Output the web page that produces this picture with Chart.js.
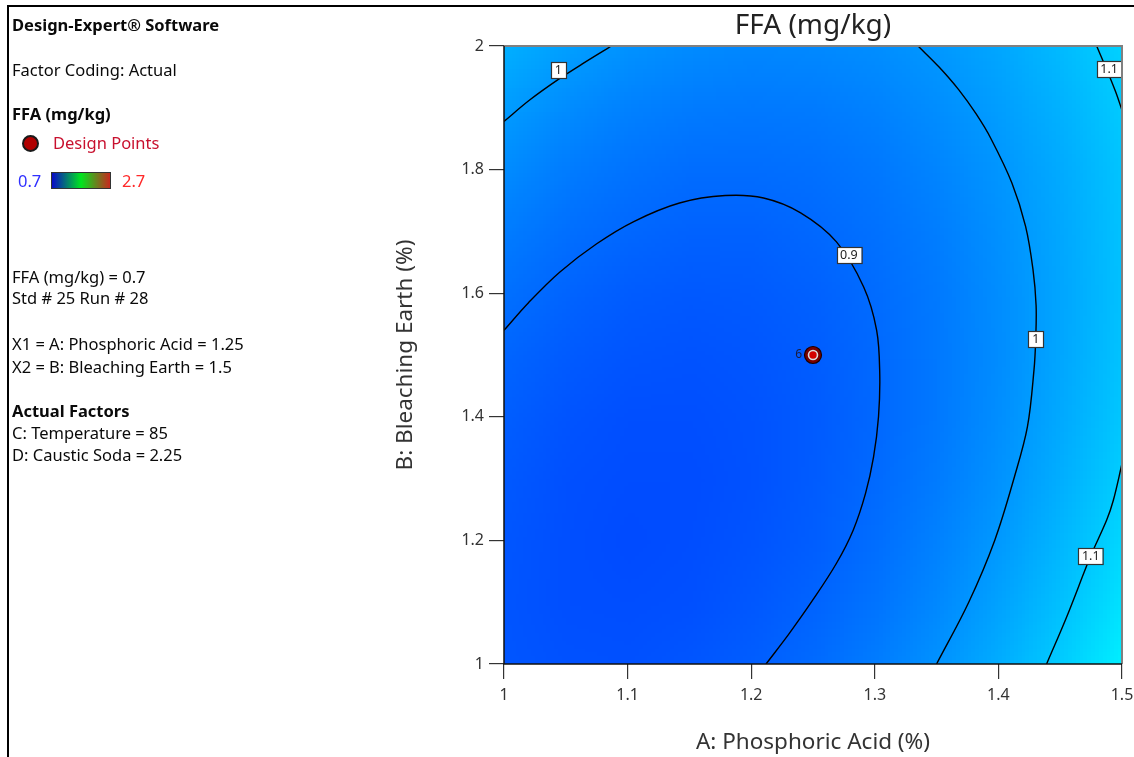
<!DOCTYPE html>
<html>
<head>
<meta charset="utf-8">
<title>FFA (mg/kg) contour</title>
<script src="https://cdn.jsdelivr.net/npm/chart.js@4.4.1/dist/chart.umd.min.js"></script>
<style>
	html, body { margin: 0; padding: 0; background: #fff; }
	body { width: 1134px; height: 757px; position: relative; overflow: hidden; font-family: "Noto Sans", sans-serif; }
	#frame { position: absolute; left: 7px; top: 5px; width: 1140px; height: 760px; border-left: 2px solid #000; border-top: 2px solid #000; }
	#chart { position: absolute; left: 0; top: 0; }
	.t { position: absolute; left: 12px; font-size: 16.5px; line-height: 20px; color: #0a0a0a; white-space: nowrap; }
	.b { font-weight: bold; }
	#dp-dot { position: absolute; left: 22px; top: 135px; width: 17px; height: 17px; box-sizing: border-box; border-radius: 50%; background: #b00000; border: 2px solid #1a1a1a; }
	#bar { position: absolute; left: 51px; top: 172px; width: 60px; height: 17px; box-sizing: border-box; border: 1px solid #333; background: linear-gradient(to right, #0a0ac8, #00e61e, #c8281e); }
</style>
</head>
<body>
<div id="frame"></div>
<canvas id="chart" width="1134" height="757"></canvas>

<div class="t b" style="top:15px">Design-Expert® Software</div>
<div class="t" style="top:60px">Factor Coding: Actual</div>
<div class="t b" style="top:104px">FFA (mg/kg)</div>
<div id="dp-dot"></div>
<div class="t" style="top:133px; left:53px; color:#c8102e">Design Points</div>
<div class="t" style="top:171px; left:18px; color:#3030ff">0.7</div>
<div id="bar"></div>
<div class="t" style="top:171px; left:122px; color:#ff2a2a">2.7</div>
<div class="t" style="top:267px">FFA (mg/kg) = 0.7</div>
<div class="t" style="top:288px">Std # 25 Run # 28</div>
<div class="t" style="top:334px">X1 = A: Phosphoric Acid = 1.25</div>
<div class="t" style="top:357px">X2 = B: Bleaching Earth = 1.5</div>
<div class="t b" style="top:401px">Actual Factors</div>
<div class="t" style="top:423px">C: Temperature = 85</div>
<div class="t" style="top:445px">D: Caustic Soda = 2.25</div>

<script>
const FONT = '"Noto Sans", sans-serif';

// response surface (rows = bleaching earth, cols = phosphoric acid)
const phosphoricLevels = [1.00, 1.05, 1.10, 1.15, 1.20, 1.25, 1.30, 1.35, 1.40, 1.45, 1.50];
const bleachingLevels = [1.0, 1.1, 1.2, 1.3, 1.4, 1.5, 1.6, 1.7, 1.8, 1.9, 2.0];
const ffaGrid = [
	[0.869, 0.860, 0.859, 0.868, 0.885, 0.910, 0.945, 0.988, 1.041, 1.102, 1.172],
	[0.866, 0.854, 0.852, 0.857, 0.872, 0.896, 0.928, 0.969, 1.019, 1.078, 1.145],
	[0.868, 0.854, 0.848, 0.852, 0.864, 0.885, 0.915, 0.954, 1.002, 1.058, 1.123],
	[0.874, 0.857, 0.850, 0.851, 0.861, 0.880, 0.907, 0.944, 0.989, 1.043, 1.106],
	[0.884, 0.865, 0.855, 0.854, 0.862, 0.879, 0.904, 0.938, 0.981, 1.033, 1.093],
	[0.899, 0.878, 0.866, 0.862, 0.868, 0.882, 0.905, 0.937, 0.977, 1.027, 1.085],
	[0.919, 0.896, 0.881, 0.875, 0.878, 0.890, 0.911, 0.940, 0.978, 1.025, 1.081],
	[0.943, 0.917, 0.901, 0.892, 0.893, 0.903, 0.921, 0.948, 0.984, 1.029, 1.082],
	[0.972, 0.944, 0.925, 0.914, 0.913, 0.920, 0.936, 0.960, 0.994, 1.036, 1.087],
	[1.005, 0.975, 0.953, 0.941, 0.937, 0.941, 0.955, 0.978, 1.009, 1.049, 1.098],
	[1.043, 1.011, 0.987, 0.972, 0.965, 0.968, 0.979, 0.999, 1.028, 1.066, 1.112],
];
const colourMin = 0.7;
const colourMax = 2.7;

const xTickValues = [1, 1.1, 1.2, 1.3, 1.4, 1.5];
const xTickLabels = ["1", "1.1", "1.2", "1.3", "1.4", "1.5"];
const yTickValues = [1, 1.2, 1.4, 1.6, 1.8, 2];
const yTickLabels = ["1", "1.2", "1.4", "1.6", "1.8", "2"];

// contour lines, [A, B] pairs
const contour0_9 = [
	[1.0, 1.540], [1.02, 1.585], [1.045, 1.634], [1.075, 1.680], [1.105, 1.716],
	[1.142, 1.746], [1.179, 1.758], [1.21, 1.754], [1.24, 1.730], [1.269, 1.683],
	[1.291, 1.610], [1.3015, 1.540], [1.304, 1.470], [1.3030, 1.400], [1.299, 1.335],
	[1.2925, 1.276], [1.2826, 1.217], [1.269, 1.163], [1.250, 1.104], [1.231, 1.050],
	[1.212, 1.0],
];
const contour1_left = [[1.0, 1.878], [1.021, 1.913], [1.044, 1.946], [1.065, 1.973], [1.087, 2.0]];
const contour1_right = [
	[1.335, 2.0], [1.352, 1.966], [1.368, 1.929], [1.382, 1.890], [1.394, 1.850],
	[1.411, 1.778], [1.422, 1.708], [1.428, 1.638], [1.4305, 1.58], [1.4302, 1.526],
	[1.4288, 1.476], [1.4235, 1.384], [1.413, 1.303], [1.397, 1.2], [1.376, 1.1], [1.350, 1.0],
];
const contour1_1_top = [[1.4795, 2.0], [1.488, 1.96], [1.495, 1.925], [1.5, 1.896]];
const contour1_1_bottom = [
	[1.5, 1.324], [1.493, 1.265], [1.4876, 1.233], [1.4747, 1.175], [1.4553, 1.0765], [1.439, 1.0],
];
const contourLines = [contour0_9, contour1_left, contour1_right, contour1_1_top, contour1_1_bottom];

const contourLabelText = ["1", "0.9", "1", "1.1", "1.1"];
const contourLabelA = [1.044, 1.279, 1.4303, 1.4896, 1.4747];
const contourLabelB = [1.961, 1.662, 1.526, 1.963, 1.175];

const designA = [1.25];
const designB = [1.5];
const designReps = ["6"];

const colourStops = [[0, 0, 255], [0, 255, 255], [0, 255, 0], [255, 255, 0], [255, 0, 0]];

function ffaColour(v) {
	let t = (v - colourMin) / (colourMax - colourMin);
	t = Math.max(0, Math.min(1, t));
	const s = t * (colourStops.length - 1);
	const i = Math.min(colourStops.length - 2, Math.floor(s));
	const f = s - i;
	return colourStops[i].map((c, k) => Math.round(c + (colourStops[i + 1][k] - c) * f));
}

// surface colour, painted under the datasets
const fieldPlugin = {
	id: "field",
	beforeDatasetsDraw(chart) {
		const { ctx, chartArea, scales } = chart;
		const nx = phosphoricLevels.length;
		const ny = bleachingLevels.length;
		const off = document.createElement("canvas");
		off.width = nx;
		off.height = ny;
		const octx = off.getContext("2d");
		const img = octx.createImageData(nx, ny);
		for (let j = 0; j < ny; j++) {
			for (let i = 0; i < nx; i++) {
				const row = ny - 1 - j;
				const rgb = ffaColour(ffaGrid[j][i]);
				const k = (row * nx + i) * 4;
				img.data[k] = rgb[0];
				img.data[k + 1] = rgb[1];
				img.data[k + 2] = rgb[2];
				img.data[k + 3] = 255;
			}
		}
		octx.putImageData(img, 0, 0);
		const x0 = scales.x.getPixelForValue(phosphoricLevels[0]);
		const cw = scales.x.getPixelForValue(phosphoricLevels[1]) - x0;
		const yTop = scales.y.getPixelForValue(bleachingLevels[ny - 1]);
		const ch = scales.y.getPixelForValue(bleachingLevels[ny - 2]) - yTop;
		ctx.save();
		ctx.beginPath();
		ctx.rect(chartArea.left, chartArea.top, chartArea.width, chartArea.height);
		ctx.clip();
		ctx.imageSmoothingEnabled = true;
		ctx.drawImage(off, x0 - cw / 2, yTop - ch / 2, cw * nx, ch * ny);
		ctx.restore();
	},
};

// contour labels, replicate count and plot frame
const overlayPlugin = {
	id: "overlay",
	afterDatasetsDraw(chart) {
		const { ctx, chartArea, scales } = chart;
		ctx.save();
		ctx.font = "12.5px " + FONT;
		ctx.textAlign = "center";
		ctx.textBaseline = "middle";
		contourLabelText.forEach((txt, i) => {
			const px = scales.x.getPixelForValue(contourLabelA[i]);
			const py = scales.y.getPixelForValue(contourLabelB[i]);
			const w = Math.max(ctx.measureText(txt).width + 7, 15);
			const h = 16;
			ctx.fillStyle = "#fff";
			ctx.fillRect(Math.round(px - w / 2), Math.round(py - h / 2), w, h);
			ctx.strokeStyle = "#333";
			ctx.lineWidth = 1.2;
			ctx.strokeRect(Math.round(px - w / 2) + 0.5, Math.round(py - h / 2) + 0.5, w, h);
			ctx.fillStyle = "#222";
			ctx.fillText(txt, px, py + 0.5);
		});

		ctx.font = "12px " + FONT;
		ctx.textAlign = "right";
		ctx.fillStyle = "#1b1b3b";
		designReps.forEach((txt, i) => {
			const px = scales.x.getPixelForValue(designA[i]);
			const py = scales.y.getPixelForValue(designB[i]);
			ctx.fillText(txt, px - 11, py);
		});

		const { left, right, top, bottom } = chartArea;
		ctx.lineWidth = 2;
		ctx.strokeStyle = "#808080";
		ctx.beginPath();
		ctx.moveTo(left, top);
		ctx.lineTo(right, top);
		ctx.lineTo(right, bottom);
		ctx.stroke();
		ctx.strokeStyle = "#111";
		ctx.lineWidth = 1.5;
		ctx.beginPath();
		ctx.moveTo(left, top);
		ctx.lineTo(left, bottom);
		ctx.lineTo(right, bottom);
		ctx.stroke();
		ctx.restore();
	},
};

const datasets = [
	{
		data: designA.map((a, i) => ({ x: a, y: designB[i] })),
		pointRadius: 4.5,
		backgroundColor: "#d40000",
		borderColor: "#dcdcdc",
		borderWidth: 1.6,
		order: 1,
	},
	{
		data: designA.map((a, i) => ({ x: a, y: designB[i] })),
		pointRadius: 8.5,
		backgroundColor: "#7a0000",
		borderColor: "#1a0000",
		borderWidth: 1.2,
		order: 2,
	},
];
contourLines.forEach((line) => {
	datasets.push({
		data: line.map((p) => ({ x: p[0], y: p[1] })),
		showLine: true,
		borderColor: "#000",
		borderWidth: 1.4,
		pointRadius: 0,
		tension: 0.35,
		order: 3,
	});
});

const tickFont = { family: FONT, size: 16 };
const titleFont = { family: FONT, size: 22.5 };

new Chart(document.getElementById("chart"), {
	type: "scatter",
	data: { datasets: datasets },
	options: {
		responsive: false,
		animation: false,
		events: [],
		layout: { padding: { left: 385, right: 0, top: 0, bottom: 0 } },
		plugins: {
			legend: { display: false },
			tooltip: { enabled: false },
			title: {
				display: true,
				text: "FFA (mg/kg)",
				fullSize: false,
				color: "#222",
				font: { family: FONT, size: 28, weight: "normal" },
				padding: { top: 9, bottom: 3.4 },
			},
		},
		scales: {
			x: {
				type: "linear",
				min: 1,
				max: 1.5,
				afterFit: (s) => {
					s.height = 93;
					s.paddingLeft = 0;
					s.paddingRight = 12;
				},
				afterBuildTicks: (s) => { s.ticks = xTickValues.map((v) => ({ value: v })); },
				ticks: {
					callback: (v) => xTickLabels[xTickValues.indexOf(v)],
					font: tickFont,
					color: "#333",
					padding: 7,
					autoSkip: false,
					maxRotation: 0,
				},
				grid: { drawOnChartArea: false, tickLength: 15, color: "#333", lineWidth: 1.2 },
				border: { display: false },
				title: {
					display: true,
					text: "A: Phosphoric Acid (%)",
					color: "#333",
					font: titleFont,
					padding: { top: 0, bottom: 1 },
				},
			},
			y: {
				type: "linear",
				min: 1,
				max: 2,
				afterFit: (s) => { s.width = 119; },
				afterBuildTicks: (s) => { s.ticks = yTickValues.map((v) => ({ value: v })); },
				ticks: {
					callback: (v) => yTickLabels[yTickValues.indexOf(v)],
					font: tickFont,
					color: "#333",
					padding: 5,
					autoSkip: false,
				},
				grid: { drawOnChartArea: false, tickLength: 15, color: "#333", lineWidth: 1.2 },
				border: { display: false },
				title: {
					display: true,
					text: "B: Bleaching Earth (%)",
					color: "#333",
					font: titleFont,
					padding: { top: 7, bottom: 0 },
				},
			},
		},
	},
	plugins: [fieldPlugin, overlayPlugin],
});
</script>
</body>
</html>
